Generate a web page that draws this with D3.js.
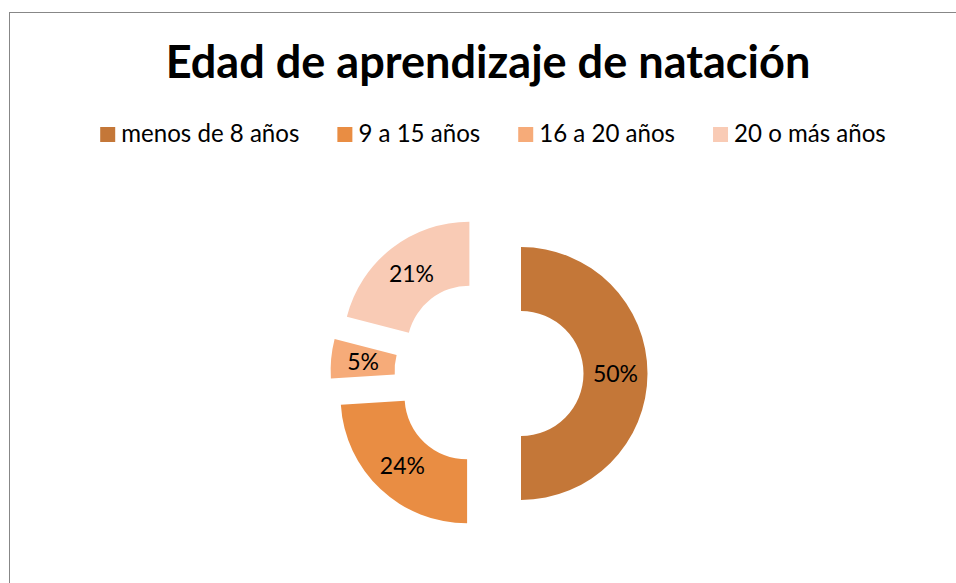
<!DOCTYPE html>
<html><head><meta charset="utf-8">
<script src="https://cdn.jsdelivr.net/npm/d3@7"></script>
<style>html,body{margin:0;padding:0;background:#fff;}svg{display:block;}</style>
</head><body>
<svg id="chart" width="956" height="583"></svg>
<script>
const title = "Edad de aprendizaje de natación";
const categories = ["menos de 8 años", "9 a 15 años", "16 a 20 años", "20 o más años"];
const values = [50, 24, 5, 21];
const labels = ["50%", "24%", "5%", "21%"];
const colors = ["#C47738", "#E98D43", "#F6AB79", "#F9CBB5"];

const W = 956, H = 583;
const svg = d3.select("#chart");
const FONT = "Lato, 'Open Sans', sans-serif";

// frame
svg.append("rect").attr("x", 9.5).attr("y", 12.5).attr("width", 1000).attr("height", 1000)
  .attr("fill", "#fff").attr("stroke", "#878787").attr("stroke-width", 1);

function fit(t, target, size) {
  const w = t.node().getComputedTextLength();
  t.attr("font-size", size * target / w);
}

// title
const tt = svg.append("text").attr("x", 488).attr("y", 78).attr("text-anchor", "middle")
  .attr("font-family", FONT).attr("font-weight", "bold").attr("fill", "#000")
  .attr("font-size", 40).text(title);
fit(tt, 645, 40);

// legend
const legendG = svg.append("g");
const items = legendG.selectAll("g").data(categories).join("g");
const sq = 15, gapT = 6, gapI = 38;
items.append("rect").attr("width", sq).attr("height", sq).attr("y", 127)
  .attr("fill", (d, i) => colors[i]);
const texts = items.append("text").attr("y", 142).attr("font-family", FONT)
  .attr("font-size", 22).attr("fill", "#000").text(d => d);
let tw = 0; texts.each(function(){ tw += this.getComputedTextLength(); });
const targetTextW = 181 + 120 + 134 + 153;
texts.attr("font-size", 22 * targetTextW / tw);
const widths = [];
texts.each(function(){ widths.push(this.getComputedTextLength()); });
const total = widths.reduce((a,b)=>a+b,0) + categories.length*(sq+gapT) + (categories.length-1)*gapI;
let cx0 = 493 - total/2;
items.each(function(d, i){
  d3.select(this).attr("transform", `translate(${cx0},0)`);
  d3.select(this).select("text").attr("x", sq + gapT);
  cx0 += sq + gapT + widths[i] + gapI;
});

// donut
const cx = 489, cy = 373.5, rOut = 126.5, rIn = 62.5, explode = 32;
const pie = d3.pie().sort(null).value(d => d);
const arcs = pie(values);
const arc = d3.arc().innerRadius(rIn).outerRadius(rOut);
const g = svg.append("g").attr("transform", `translate(${cx},${cy})`);
const slice = g.selectAll("g.s").data(arcs).join("g").attr("class", "s")
  .attr("transform", d => {
    const a = (d.startAngle + d.endAngle) / 2;
    return `translate(${explode*Math.sin(a)},${-explode*Math.cos(a)})`;
  });
slice.append("path").attr("d", arc).attr("fill", (d, i) => colors[i]);
slice.append("text").attr("transform", d => `translate(${arc.centroid(d)})`)
  .attr("text-anchor", "middle").attr("dy", "0.36em")
  .attr("font-family", FONT).attr("font-size", 23).attr("fill", "#000")
  .text((d, i) => labels[i]);
</script>
</body></html>
